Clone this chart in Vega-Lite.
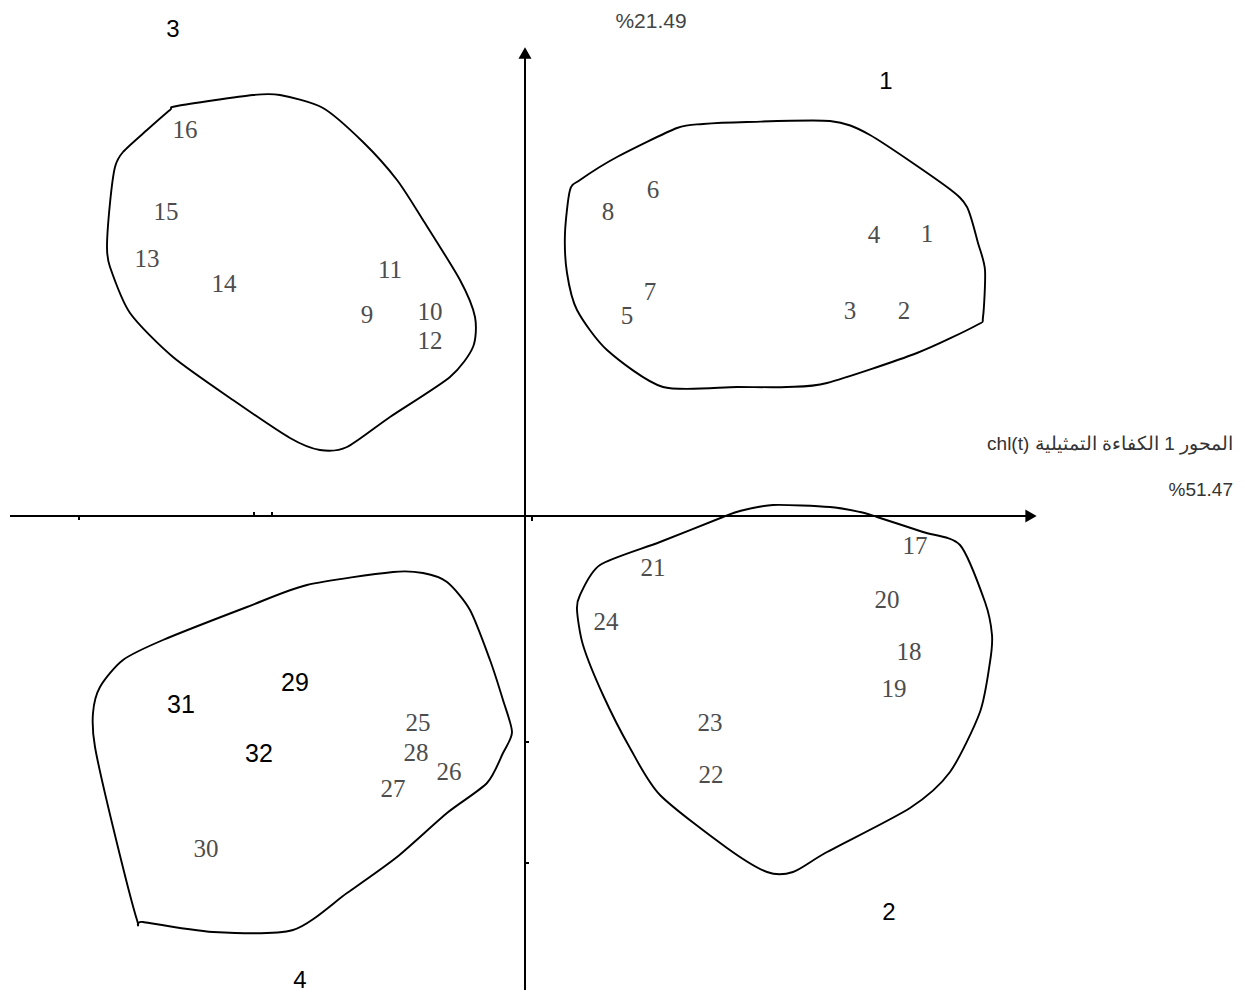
{
  "$schema": "https://vega.github.io/schema/vega-lite/v6.json",
  "width": 1245,
  "height": 995,
  "autosize": {"type": "none"},
  "padding": 0,
  "background": "white",
  "config": {"view": {"stroke": null}},
  "datasets": {
    "axes": [
      {"x": -515, "y": 0, "x2": 505, "y2": 0},
      {"x": 0, "y": -474, "x2": 0, "y2": 462}
    ],
    "arrows": [
      {"x": 506, "y": 0, "dir": "right"},
      {"x": 0, "y": 463, "dir": "up"}
    ],
    "ticks": [
      {"x": -446, "y": 0, "x2": -446, "y2": -4},
      {"x": -271, "y": 0, "x2": -271, "y2": 4},
      {"x": -253, "y": 0, "x2": -253, "y2": 4},
      {"x": 7, "y": 0, "x2": 7, "y2": -5},
      {"x": 0, "y": -226, "x2": 4, "y2": -226},
      {"x": 0, "y": -347, "x2": 4, "y2": -347}
    ],
    "curves": [
      {"cluster": 3, "i": 1, "x": -355, "y": 406},
      {"cluster": 3, "i": 2, "x": -348, "y": 410},
      {"cluster": 3, "i": 3, "x": -272, "y": 421},
      {"cluster": 3, "i": 4, "x": -245, "y": 421},
      {"cluster": 3, "i": 5, "x": -202, "y": 408},
      {"cluster": 3, "i": 6, "x": -162, "y": 374},
      {"cluster": 3, "i": 7, "x": -128, "y": 336},
      {"cluster": 3, "i": 8, "x": -102, "y": 296},
      {"cluster": 3, "i": 9, "x": -65, "y": 236},
      {"cluster": 3, "i": 10, "x": -50, "y": 199},
      {"cluster": 3, "i": 11, "x": -52, "y": 169},
      {"cluster": 3, "i": 12, "x": -75, "y": 139},
      {"cluster": 3, "i": 13, "x": -135, "y": 99},
      {"cluster": 3, "i": 14, "x": -178, "y": 69},
      {"cluster": 3, "i": 15, "x": -205, "y": 66},
      {"cluster": 3, "i": 16, "x": -235, "y": 78},
      {"cluster": 3, "i": 17, "x": -292, "y": 116},
      {"cluster": 3, "i": 18, "x": -352, "y": 159},
      {"cluster": 3, "i": 19, "x": -395, "y": 203},
      {"cluster": 3, "i": 20, "x": -415, "y": 249},
      {"cluster": 3, "i": 21, "x": -418, "y": 269},
      {"cluster": 3, "i": 22, "x": -415, "y": 313},
      {"cluster": 3, "i": 23, "x": -410, "y": 349},
      {"cluster": 3, "i": 24, "x": -402, "y": 364},
      {"cluster": 3, "i": 25, "x": -378, "y": 386},
      {"cluster": 1, "i": 1, "x": 45, "y": 326},
      {"cluster": 1, "i": 2, "x": 55, "y": 336},
      {"cluster": 1, "i": 3, "x": 92, "y": 359},
      {"cluster": 1, "i": 4, "x": 152, "y": 388},
      {"cluster": 1, "i": 5, "x": 178, "y": 392},
      {"cluster": 1, "i": 6, "x": 222, "y": 394},
      {"cluster": 1, "i": 7, "x": 305, "y": 395},
      {"cluster": 1, "i": 8, "x": 345, "y": 381},
      {"cluster": 1, "i": 9, "x": 422, "y": 329},
      {"cluster": 1, "i": 10, "x": 442, "y": 309},
      {"cluster": 1, "i": 11, "x": 453, "y": 273},
      {"cluster": 1, "i": 12, "x": 460, "y": 246},
      {"cluster": 1, "i": 13, "x": 458, "y": 199},
      {"cluster": 1, "i": 14, "x": 452, "y": 191},
      {"cluster": 1, "i": 15, "x": 392, "y": 163},
      {"cluster": 1, "i": 16, "x": 302, "y": 133},
      {"cluster": 1, "i": 17, "x": 262, "y": 129},
      {"cluster": 1, "i": 18, "x": 212, "y": 129},
      {"cluster": 1, "i": 19, "x": 138, "y": 129},
      {"cluster": 1, "i": 20, "x": 82, "y": 166},
      {"cluster": 1, "i": 21, "x": 52, "y": 206},
      {"cluster": 1, "i": 22, "x": 42, "y": 243},
      {"cluster": 1, "i": 23, "x": 40, "y": 283},
      {"cluster": 4, "i": 1, "x": -388, "y": -404},
      {"cluster": 4, "i": 2, "x": -412, "y": -311},
      {"cluster": 4, "i": 3, "x": -430, "y": -231},
      {"cluster": 4, "i": 4, "x": -432, "y": -197},
      {"cluster": 4, "i": 5, "x": -425, "y": -171},
      {"cluster": 4, "i": 6, "x": -402, "y": -144},
      {"cluster": 4, "i": 7, "x": -362, "y": -124},
      {"cluster": 4, "i": 8, "x": -278, "y": -91},
      {"cluster": 4, "i": 9, "x": -218, "y": -69},
      {"cluster": 4, "i": 10, "x": -132, "y": -56},
      {"cluster": 4, "i": 11, "x": -102, "y": -57},
      {"cluster": 4, "i": 12, "x": -78, "y": -66},
      {"cluster": 4, "i": 13, "x": -55, "y": -94},
      {"cluster": 4, "i": 14, "x": -35, "y": -144},
      {"cluster": 4, "i": 15, "x": -22, "y": -184},
      {"cluster": 4, "i": 16, "x": -13, "y": -216},
      {"cluster": 4, "i": 17, "x": -22, "y": -237},
      {"cluster": 4, "i": 18, "x": -38, "y": -267},
      {"cluster": 4, "i": 19, "x": -78, "y": -297},
      {"cluster": 4, "i": 20, "x": -128, "y": -341},
      {"cluster": 4, "i": 21, "x": -178, "y": -377},
      {"cluster": 4, "i": 22, "x": -232, "y": -414},
      {"cluster": 4, "i": 23, "x": -312, "y": -416},
      {"cluster": 4, "i": 24, "x": -382, "y": -406},
      {"cluster": 2, "i": 1, "x": 75, "y": -49},
      {"cluster": 2, "i": 2, "x": 55, "y": -79},
      {"cluster": 2, "i": 3, "x": 52, "y": -94},
      {"cluster": 2, "i": 4, "x": 58, "y": -129},
      {"cluster": 2, "i": 5, "x": 78, "y": -179},
      {"cluster": 2, "i": 6, "x": 105, "y": -232},
      {"cluster": 2, "i": 7, "x": 135, "y": -279},
      {"cluster": 2, "i": 8, "x": 202, "y": -332},
      {"cluster": 2, "i": 9, "x": 242, "y": -356},
      {"cluster": 2, "i": 10, "x": 268, "y": -356},
      {"cluster": 2, "i": 11, "x": 302, "y": -336},
      {"cluster": 2, "i": 12, "x": 385, "y": -292},
      {"cluster": 2, "i": 13, "x": 425, "y": -256},
      {"cluster": 2, "i": 14, "x": 455, "y": -196},
      {"cluster": 2, "i": 15, "x": 465, "y": -146},
      {"cluster": 2, "i": 16, "x": 467, "y": -119},
      {"cluster": 2, "i": 17, "x": 460, "y": -86},
      {"cluster": 2, "i": 18, "x": 435, "y": -29},
      {"cluster": 2, "i": 19, "x": 398, "y": -16},
      {"cluster": 2, "i": 20, "x": 352, "y": -1},
      {"cluster": 2, "i": 21, "x": 335, "y": 4},
      {"cluster": 2, "i": 22, "x": 305, "y": 9},
      {"cluster": 2, "i": 23, "x": 248, "y": 11},
      {"cluster": 2, "i": 24, "x": 215, "y": 5},
      {"cluster": 2, "i": 25, "x": 198, "y": -1},
      {"cluster": 2, "i": 26, "x": 135, "y": -26}
    ],
    "points": [
      {"label": "1", "x": 402, "y": 282},
      {"label": "2", "x": 379, "y": 205},
      {"label": "3", "x": 325, "y": 205},
      {"label": "4", "x": 349, "y": 281},
      {"label": "5", "x": 102, "y": 200},
      {"label": "6", "x": 128, "y": 326},
      {"label": "7", "x": 125, "y": 224},
      {"label": "8", "x": 83, "y": 304},
      {"label": "9", "x": -158, "y": 201},
      {"label": "10", "x": -95, "y": 204},
      {"label": "11", "x": -135, "y": 246},
      {"label": "12", "x": -95, "y": 175},
      {"label": "13", "x": -378, "y": 257},
      {"label": "14", "x": -301, "y": 232},
      {"label": "15", "x": -359, "y": 304},
      {"label": "16", "x": -340, "y": 386},
      {"label": "17", "x": 390, "y": -30},
      {"label": "18", "x": 384, "y": -136},
      {"label": "19", "x": 369, "y": -173},
      {"label": "20", "x": 362, "y": -84},
      {"label": "21", "x": 128, "y": -52},
      {"label": "22", "x": 186, "y": -259},
      {"label": "23", "x": 185, "y": -207},
      {"label": "24", "x": 81, "y": -106},
      {"label": "25", "x": -107, "y": -207},
      {"label": "26", "x": -76, "y": -256},
      {"label": "27", "x": -132, "y": -273},
      {"label": "28", "x": -109, "y": -237},
      {"label": "29", "x": -230, "y": -167},
      {"label": "30", "x": -319, "y": -333},
      {"label": "31", "x": -344, "y": -189},
      {"label": "32", "x": -266, "y": -238}
    ],
    "clusters": [
      {"label": "3", "x": -352, "y": 486},
      {"label": "1", "x": 361, "y": 434},
      {"label": "2", "x": 364, "y": -397},
      {"label": "4", "x": -225, "y": -465}
    ],
    "titles": [
      {"text": "chl(t) المحور 1 الكفاءة التمثيلية", "x": 708, "y": 72},
      {"text": "%51.47", "x": 708, "y": 26}
    ]
  },
  "layer": [
    {
      "data": {"name": "axes"},
      "mark": {"type": "rule", "color": "black", "strokeWidth": 2},
      "encoding": {
        "x": {"field": "x", "type": "quantitative", "scale": {"domain": [-525, 720], "nice": false, "zero": false}, "axis": null},
        "y": {"field": "y", "type": "quantitative", "scale": {"domain": [-479, 516], "nice": false, "zero": false}, "axis": null},
        "x2": {"field": "x2"},
        "y2": {"field": "y2"}
      }
    },
    {
      "data": {"name": "ticks"},
      "mark": {"type": "rule", "color": "black", "strokeWidth": 2},
      "encoding": {
        "x": {"field": "x", "type": "quantitative", "scale": {"domain": [-525, 720], "nice": false, "zero": false}, "axis": null},
        "y": {"field": "y", "type": "quantitative", "scale": {"domain": [-479, 516], "nice": false, "zero": false}, "axis": null},
        "x2": {"field": "x2"},
        "y2": {"field": "y2"}
      }
    },
    {
      "data": {"name": "arrows"},
      "mark": {"type": "point", "filled": true, "color": "black", "opacity": 1, "size": 170},
      "encoding": {
        "x": {"field": "x", "type": "quantitative", "scale": {"domain": [-525, 720], "nice": false, "zero": false}, "axis": null},
        "y": {"field": "y", "type": "quantitative", "scale": {"domain": [-479, 516], "nice": false, "zero": false}, "axis": null},
        "shape": {"field": "dir", "type": "nominal", "scale": {"domain": ["right", "up"], "range": ["triangle-right", "triangle-up"]}, "legend": null}
      }
    },
    {
      "data": {"name": "curves"},
      "mark": {"type": "line", "interpolate": "cardinal-closed", "tension": 0.25, "color": "black", "strokeWidth": 1.9},
      "encoding": {
        "x": {"field": "x", "type": "quantitative", "scale": {"domain": [-525, 720], "nice": false, "zero": false}, "axis": null},
        "y": {"field": "y", "type": "quantitative", "scale": {"domain": [-479, 516], "nice": false, "zero": false}, "axis": null},
        "detail": {"field": "cluster", "type": "nominal"},
        "order": {"field": "i", "type": "quantitative"}
      }
    },
    {
      "data": {"name": "points"},
      "transform": [{"filter": "indexof(['29','31','32'], datum.label) < 0"}],
      "mark": {"type": "text", "font": "Liberation Serif", "fontSize": 25, "color": "#4d4d4d", "align": "center", "baseline": "middle"},
      "encoding": {
        "x": {"field": "x", "type": "quantitative", "scale": {"domain": [-525, 720], "nice": false, "zero": false}, "axis": null},
        "y": {"field": "y", "type": "quantitative", "scale": {"domain": [-479, 516], "nice": false, "zero": false}, "axis": null},
        "text": {"field": "label", "type": "nominal"}
      }
    },
    {
      "data": {"name": "points"},
      "transform": [{"filter": "indexof(['29','31','32'], datum.label) >= 0"}],
      "mark": {"type": "text", "font": "Liberation Sans", "fontSize": 25, "color": "black", "align": "center", "baseline": "middle"},
      "encoding": {
        "x": {"field": "x", "type": "quantitative", "scale": {"domain": [-525, 720], "nice": false, "zero": false}, "axis": null},
        "y": {"field": "y", "type": "quantitative", "scale": {"domain": [-479, 516], "nice": false, "zero": false}, "axis": null},
        "text": {"field": "label", "type": "nominal"}
      }
    },
    {
      "data": {"name": "clusters"},
      "mark": {"type": "text", "font": "Liberation Sans", "fontSize": 24, "color": "black", "align": "center", "baseline": "middle"},
      "encoding": {
        "x": {"field": "x", "type": "quantitative", "scale": {"domain": [-525, 720], "nice": false, "zero": false}, "axis": null},
        "y": {"field": "y", "type": "quantitative", "scale": {"domain": [-479, 516], "nice": false, "zero": false}, "axis": null},
        "text": {"field": "label", "type": "nominal"}
      }
    },
    {
      "data": {"values": [{"text": "%21.49", "x": 126, "y": 494}]},
      "mark": {"type": "text", "font": "Liberation Sans", "fontSize": 21, "color": "#444444", "align": "center", "baseline": "middle"},
      "encoding": {
        "x": {"field": "x", "type": "quantitative", "scale": {"domain": [-525, 720], "nice": false, "zero": false}, "axis": null},
        "y": {"field": "y", "type": "quantitative", "scale": {"domain": [-479, 516], "nice": false, "zero": false}, "axis": null},
        "text": {"field": "text", "type": "nominal"}
      }
    },
    {
      "data": {"name": "titles"},
      "mark": {"type": "text", "font": "Liberation Sans", "fontSize": 19, "color": "#333333", "align": "right", "baseline": "middle"},
      "encoding": {
        "x": {"field": "x", "type": "quantitative", "scale": {"domain": [-525, 720], "nice": false, "zero": false}, "axis": null},
        "y": {"field": "y", "type": "quantitative", "scale": {"domain": [-479, 516], "nice": false, "zero": false}, "axis": null},
        "text": {"field": "text", "type": "nominal"}
      }
    }
  ]
}
